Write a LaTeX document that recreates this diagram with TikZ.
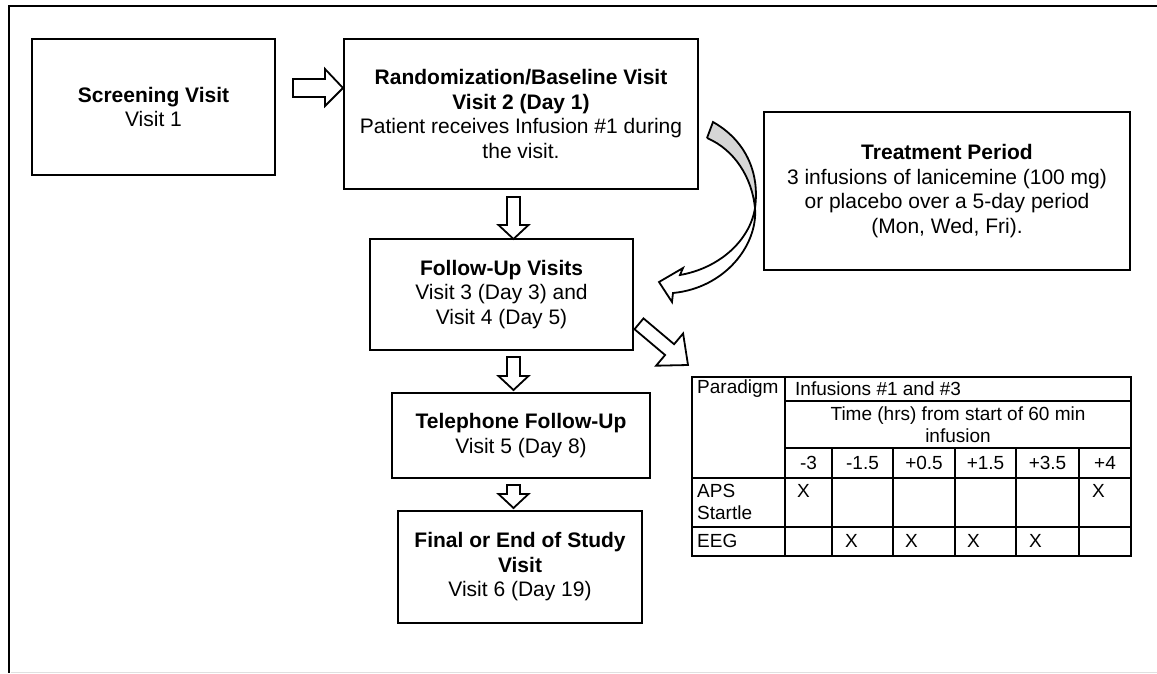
\documentclass[tikz,border=0pt]{standalone}
\usepackage{fontspec}
\setmainfont{Liberation Sans}
\tikzset{
  box/.style={draw, line width=2pt, inner sep=0pt, align=center, font=\fontsize{21}{24.5}\selectfont},
  blockarrow/.style={draw, line width=1.8pt, fill=white, line join=miter},
  tline/.style={line width=2pt},
  ttext/.style={font=\fontsize{19}{22}\selectfont, inner sep=0pt},
  tnum/.style={ttext, anchor=center},
  tleft/.style={ttext, anchor=west, align=left},
}
\begin{document}
\begin{tikzpicture}[x=1pt,y=-1pt]
\useasboundingbox (0,0) rectangle (1157,673);
% outer frame (partial)
\draw[line width=2.6pt] (1157,6) -- (9,6) -- (9,673);
\draw[black!12, line width=1pt] (11,672) -- (1157,672);

% boxes
\node[box, minimum width=243pt, minimum height=136pt] (screen) at (153.5,107)
  {\textbf{Screening Visit}\\Visit 1};
\node[box, minimum width=354pt, minimum height=150pt] (rand) at (521,114)
  {\textbf{Randomization/Baseline Visit}\\\textbf{Visit 2 (Day 1)}\\Patient receives Infusion \#1 during\\the visit.};
\node[box, minimum width=366pt, minimum height=158pt] (treat) at (947,191)
  {\textbf{Treatment Period}\\3 infusions of lanicemine (100 mg)\\or placebo over a 5-day period\\(Mon, Wed, Fri).};
\node[box, minimum width=263pt, minimum height=111pt] (follow) at (501.5,294.5)
  {\textbf{Follow-Up Visits}\\Visit 3 (Day 3) and\\Visit 4 (Day 5)};
\node[box, minimum width=258pt, minimum height=85pt] (tel) at (521,435.5)
  {\textbf{Telephone Follow-Up}\\Visit 5 (Day 8)};
\node[box, minimum width=244pt, minimum height=112pt] (final) at (520,567)
  {\textbf{Final or End of Study}\\\textbf{Visit}\\Visit 6 (Day 19)};

% block arrows
\draw[blockarrow] (293,79) -- (325,79) -- (325,69) -- (343,88) -- (325,106) -- (325,97) -- (293,97) -- cycle;
\draw[blockarrow] (507,197) -- (520,197) -- (520,225) -- (528.5,225) -- (513.5,239) -- (498.5,225) -- (507,225) -- cycle;
\draw[blockarrow] (507,357) -- (520,357) -- (520,376) -- (528.5,376) -- (513.5,390) -- (498.5,376) -- (507,376) -- cycle;
\draw[blockarrow] (507,485) -- (520,485) -- (520,494) -- (528.5,494) -- (513.5,508) -- (498.5,494) -- (507,494) -- cycle;
% diagonal arrow to table
\draw[blockarrow] (643.5,318.4) -- (674.1,344.2) -- (683.1,333.5) -- (688,365) -- (656.1,365.7) -- (665.1,355) -- (634.5,329.2) -- cycle;

% curved arrow
\fill[black!16] (713,122) .. controls (745,140) and (760,172) .. (755,208)
   .. controls (752,178) and (735,150) .. (707,138) -- cycle;
\fill[white] (755,208) .. controls (750,240) and (720,268) .. (680,275)
   -- (683,268) -- (659,282) -- (672,302) -- (673,293)
   .. controls (725,288) and (758,245) .. (755,208) -- cycle;
\draw[line width=1.8pt, line join=miter]
   (707,138) -- (713,122) .. controls (745,140) and (760,172) .. (755,208)
   .. controls (750,240) and (720,268) .. (680,275)
   -- (683,268) -- (659,282) -- (672,302) -- (673,293)
   .. controls (725,288) and (758,245) .. (755,208)
   .. controls (752,178) and (735,150) .. (707,138);

% table grid
\draw[tline] (692,377) rectangle (1131,556);
\draw[tline] (785,401) -- (1131,401);
\draw[tline] (785,448) -- (1131,448);
\draw[tline] (692,478) -- (1131,478);
\draw[tline] (692,527) -- (1131,527);
\draw[tline] (785,377) -- (785,556);
\foreach \cx in {832,893,955,1016,1079} \draw[tline] (\cx,448) -- (\cx,556);

% table text
\node[tleft] (par) at (697,389) {Paradigm};
\node[tleft] (inf) at (795,389) {Infusions \#1 and \#3};
\node[ttext, align=center] (time) at (958,425) {Time (hrs) from start of 60 min\\infusion};
\node[tnum] (c1) at (808.5,463) {-3};
\node[tnum] (c2) at (862.5,463) {-1.5};
\node[tnum] (c3) at (924,463) {+0.5};
\node[tnum] (c4) at (985.5,463) {+1.5};
\node[tnum] (c5) at (1047.5,463) {+3.5};
\node[tnum] (c6) at (1105,463) {+4};
\node[tleft] (aps) at (697,502) {APS\\Startle};
\node[tleft] (eeg) at (697,541) {EEG};
\node[tleft] (xa1) at (797,491) {X};
\node[tleft] (xa6) at (1092,491) {X};
\node[tleft] (xe2) at (845,541) {X};
\node[tleft] (xe3) at (905,541) {X};
\node[tleft] (xe4) at (967,541) {X};
\node[tleft] (xe5) at (1029,541) {X};
\end{tikzpicture}
\end{document}
